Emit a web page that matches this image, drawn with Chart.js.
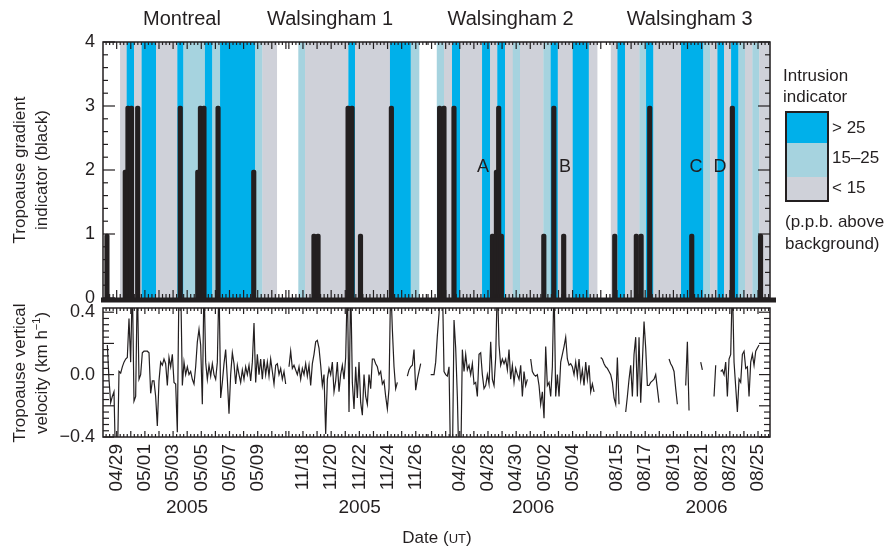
<!DOCTYPE html>
<html>
<head>
<meta charset="utf-8">
<script src="https://cdn.jsdelivr.net/npm/chart.js@4.4.1/dist/chart.umd.min.js"></script>
<style>
body { margin: 0; background: #fff; }
#wrap { position: relative; width: 893px; height: 548px; overflow: hidden; font-family: "Liberation Sans", Arial, sans-serif; color: #231f20; }
canvas { position: absolute; left: 0; }
.txt { position: absolute; white-space: nowrap; font-size: 17px; line-height: 17px; }
.rot { position: absolute; white-space: nowrap; font-size: 17px; line-height: 22px; text-align: center; transform: translate(-50%, -50%) rotate(-90deg); }
.box { position: absolute; left: 785px; top: 111px; width: 44px; height: 91px; box-sizing: border-box; border: 2px solid #231f20; }
.box div { width: 100%; }
</style>
</head>
<body>
<div id="wrap">
  <canvas id="topChart" width="893" height="310" style="top:0"></canvas>
  <canvas id="bottomChart" width="893" height="248" style="top:300px"></canvas>

  <div class="rot" style="left:31px;top:170px">Tropoause gradient<br>indicator (black)</div>
  <div class="rot" style="left:31px;top:373px">Tropoause vertical<br>velocity (km h<sup style="font-size:11px;line-height:0">−1</sup>)</div>

  <div class="txt" style="left:783px;top:67px">Intrusion</div>
  <div class="txt" style="left:783px;top:88px">indicator</div>
  <div class="box">
    <div style="height:30px;background:#00b0ea"></div>
    <div style="height:34px;background:#a6d3df"></div>
    <div style="height:23px;background:#cfd1d9"></div>
  </div>
  <div class="txt" style="left:832px;top:119px">&gt; 25</div>
  <div class="txt" style="left:832px;top:149px">15–25</div>
  <div class="txt" style="left:832px;top:179px">&lt; 15</div>
  <div class="txt" style="left:785px;top:213px">(p.p.b. above</div>
  <div class="txt" style="left:785px;top:235px">background)</div>

  <div class="txt" style="left:437px;top:529px;transform:translateX(-50%)">Date (<span style="font-size:13px">UT</span>)</div>
</div>

<script>
const FONT = '"Liberation Sans", Arial, sans-serif';
const INK = '#231f20';
const LEVEL_COLOURS = ['#ffffff', '#cfd1d9', '#a6d3df', '#00b0ea'];

// x axis is in "plot days" across the four campaigns laid end to end
const X_MAX = 47.3;

const campaignNames = ['Montreal', 'Walsingham 1', 'Walsingham 2', 'Walsingham 3'];
const campaignTitlePos = [5.6, 16.1, 28.9, 41.6];
const campaignYears = ['2005', '2005', '2006', '2006'];
const campaignYearPos = [5.96, 18.2, 30.5, 42.8];
const campaignBounds = [0, 13.09, 23.04, 35.52, X_MAX];
const campaignFirstTick = [0.97, 14.18, 25.3, 36.45];

const tickText = ['04/29', '05/01', '05/03', '05/05', '05/07', '05/09',
  '11/18', '11/20', '11/22', '11/24', '11/26',
  '04/26', '04/28', '04/30', '05/02', '05/04',
  '08/15', '08/17', '08/19', '08/21', '08/23', '08/25'];
const tickValues = [0.97, 2.97, 4.97, 6.97, 8.97, 10.97,
  14.18, 16.18, 18.18, 20.18, 22.18,
  25.3, 27.3, 29.3, 31.3, 33.3,
  36.45, 38.45, 40.45, 42.45, 44.45, 46.45];

// intrusion indicator bands: 1 = < 15, 2 = 15-25, 3 = > 25 p.p.b.
const bandFrom = [1.21, 1.68, 2.2, 2.74, 3.76, 5.27, 5.7, 7.23, 7.75, 8.3, 10.78, 11.3,
  13.85, 14.33, 17.4, 17.87, 20.35, 21.82,
  23.67, 24.18, 24.75, 25.32, 26.88, 27.45, 27.96, 28.51, 29.06, 29.57, 31.23, 31.75, 32.25, 33.31, 34.45,
  36.01, 36.48, 37.02, 38.04, 38.51, 39.03, 40.99, 42.57, 43.05, 43.57, 44.04, 44.54, 45.06, 45.53, 46.05, 46.54];
const bandTo = [1.68, 2.2, 2.74, 3.76, 5.27, 5.7, 7.23, 7.75, 8.3, 10.78, 11.3, 12.32,
  14.33, 17.4, 17.87, 20.35, 21.82, 22.41,
  24.18, 24.75, 25.32, 26.88, 27.45, 27.96, 28.51, 29.06, 29.57, 31.23, 31.75, 32.25, 33.31, 34.45, 35.04,
  36.48, 37.02, 38.04, 38.51, 39.03, 40.99, 42.57, 43.05, 43.57, 44.04, 44.54, 45.06, 45.53, 46.05, 46.54, 47.3];
const bandLevel = [1, 3, 1, 3, 1, 3, 2, 3, 2, 3, 2, 1,
  2, 1, 3, 1, 3, 2,
  2, 1, 3, 1, 3, 1, 3, 1, 2, 1, 2, 3, 1, 3, 1,
  1, 3, 1, 2, 3, 1, 3, 2, 1, 3, 1, 3, 2, 1, 2, 1];

// tropopause gradient indicator (black bars)
const gradTimes = [0.28, 1.58, 1.77, 2.02, 2.46, 5.48, 6.72, 6.91, 7.16, 8.16,
  10.69, 14.96, 15.25, 17.38, 17.66, 18.26, 20.45, 23.87, 24.18, 24.89,
  27.62, 27.9, 28.06, 28.25, 31.26, 31.97, 32.67, 36.29, 37.82, 38.16,
  38.77, 41.75, 44.63, 46.63];
const gradValues = [1, 2, 3, 3, 3, 3, 2, 3, 3, 3,
  2, 1, 1, 3, 3, 1, 3, 3, 3, 3,
  1, 2, 3, 1, 1, 3, 1, 1, 1, 1,
  3, 1, 3, 1];

const annLabels = ['A', 'B', 'C', 'D'];
const annX = [26.95, 32.77, 42.06, 43.76];
const annY = [2.05, 2.05, 2.05, 2.05];

// tropopause vertical velocity (km/h), regular samples, null = no data
const VEL_T0 = 0.307;
const VEL_DT = 0.1182;
const VEL_MIN = -0.4;
const VEL_MAX = 0.427;
const velocity = [
  0.19, -0.03, -0.18, -0.14, -0.11, -0.6, -0.6, 0.02, 0.01, 0.05,
  0.08, 0.1, 0.11, 0.36, 0.08, 0.6, -0.17, -0.14, 0.6, -0.03,
  0.0, 0.14, 0.15, 0.15, 0.15, 0.14, -0.12, -0.04, -0.04, -0.14,
  -0.33, -0.04, 0.08, 0.06, 0.1, 0.07, -0.07, 0.11, 0.05, 0.13,
  -0.05, -0.06, -0.37, 0.6, 0.6, -0.07, 0.08, 0.0, 0.05, 0.0,
  0.02, -0.03, -0.06, 0.05, 0.21, 0.29, 0.19, -0.19, 0.6, 0.08,
  -0.03, 0.06, -0.01, 0.07, 0.0, -0.03, 0.08, 0.6, -0.15, -0.05,
  0.07, 0.16, -0.03, -0.25, 0.0, 0.14, 0.07, -0.06, 0.06, 0.0,
  -0.05, 0.03, -0.03, 0.05, 0.0, 0.06, -0.04, 0.08, 0.33, -0.05,
  0.13, 0.0, 0.1, -0.03, 0.1, 0.0, 0.08, -0.01, 0.1, 0.02,
  -0.06, 0.06, 0.07, 0.0, 0.04, -0.03, 0.02, -0.06, null, 0.05,
  0.15, 0.04, 0.06, 0.03, 0.0, 0.05, -0.03, 0.04, 0.0, 0.07,
  -0.01, 0.06, -0.07, 0.07, 0.13, 0.21, 0.22, 0.17, 0.06, -0.07,
  0.0, -0.38, -0.03, 0.04, 0.0, 0.08, -0.11, -0.04, 0.08, -0.11,
  0.0, 0.06, -0.03, 0.11, 0.6, -0.24, 0.6, -0.05, -0.22, 0.05,
  -0.15, 0.08, -0.18, -0.26, 0.0, -0.14, -0.19, 0.0, -0.09, 0.1,
  0.1, 0.07, 0.05, 0.0, 0.02, -0.06, -0.04, -0.14, -0.22, -0.09,
  0.6, 0.29, 0.05, -0.09, -0.05, null, null, null, null, null,
  -0.01, 0.03, 0.05, 0.06, 0.16, -0.1, -0.03, 0.02, 0.07, null,
  null, null, null, null, 0.0, 0.0, 0.0, 0.08, 0.25, 0.39,
  0.6, 0.6, 0.02, 0.0, -0.01, 0.05, -0.6, -0.6, 0.35, 0.17,
  -0.14, -0.6, -0.6, 0.16, 0.02, 0.13, 0.03, 0.06, 0.0, 0.07,
  -0.06, -0.05, -0.14, 0.13, 0.14, 0.0, -0.09, -0.07, 0.0, -0.06,
  0.21, -0.03, -0.07, 0.11, 0.6, 0.19, 0.06, 0.1, 0.07, 0.1,
  0.03, 0.16, -0.03, 0.06, -0.05, 0.04, 0.0, -0.03, 0.06, -0.14,
  0.02, -0.07, -0.03, null, 0.1, 0.02, 0.0, -0.01, 0.0, -0.07,
  -0.19, -0.11, -0.28, 0.18, -0.07, -0.05, -0.14, 0.05, 0.6, -0.14,
  0.0, -0.14, 0.08, 0.13, 0.18, 0.24, 0.1, 0.06, 0.07, 0.05,
  0.0, 0.08, -0.01, 0.1, -0.04, 0.03, -0.07, 0.08, -0.03, 0.06,
  -0.11, -0.06, -0.11, null, null, null, 0.11, 0.1, 0.07, 0.05,
  0.04, 0.02, 0.0, -0.05, -0.15, -0.19, 0.11, -0.19, null, null,
  null, -0.24, -0.14, -0.03, 0.06, -0.14, 0.13, 0.24, -0.14, 0.24,
  -0.18, 0.08, 0.34, 0.17, -0.07, -0.07, -0.05, -0.04, -0.03, 0.0,
  -0.09, -0.18, null, null, null, null, null, 0.1, 0.07, 0.05,
  0.02, -0.09, -0.19, null, null, null, null, -0.07, 0.21, -0.23,
  null, null, null, null, null, null, 0.08, 0.03, null, null,
  null, null, null, null, -0.14, 0.06, null, null, 0.02, 0.03,
  0.0, 0.08, -0.14, 0.1, 0.13, 0.6, 0.08, -0.08, -0.24, -0.03,
  -0.05, 0.13, 0.15, 0.04, 0.05, -0.14, 0.08, 0.13, 0.06, 0.15,
  0.17, 0.19
];

Chart.defaults.font.family = FONT;
Chart.defaults.color = INK;

const line = (ctx, x1, y1, x2, y2) => {
  ctx.beginPath();
  ctx.moveTo(x1, y1);
  ctx.lineTo(x2, y2);
  ctx.stroke();
};

// date tick marks along a horizontal edge, pointing into the panel
const drawEdgeTicks = (ctx, x, yEdge, dir, minor, major) => {
  for (let c = 0; c < campaignFirstTick.length; c++) {
    const lo = campaignBounds[c], hi = campaignBounds[c + 1];
    const n0 = Math.ceil((lo - campaignFirstTick[c]) / 0.25);
    const n1 = Math.floor((hi - campaignFirstTick[c]) / 0.25);
    for (let n = n0; n <= n1; n++) {
      const px = x.getPixelForValue(campaignFirstTick[c] + n * 0.25);
      const len = (n % 4 === 0) ? major : minor;
      line(ctx, px, yEdge, px, yEdge + dir * len);
    }
  }
};

const fitY = (s) => {
  s.width = 103;
  s.paddingTop = 0;
  s.paddingBottom = 0;
};

const bandsPlugin = {
  id: 'bands',
  beforeDatasetsDraw(chart) {
    const { ctx, chartArea: a, scales: { x } } = chart;
    ctx.save();
    bandFrom.forEach((from, i) => {
      const x1 = x.getPixelForValue(from);
      const x2 = x.getPixelForValue(bandTo[i]);
      ctx.fillStyle = LEVEL_COLOURS[bandLevel[i]];
      ctx.fillRect(x1, a.top, x2 - x1 + 0.3, a.bottom - a.top);
    });
    ctx.restore();
  }
};

const topFramePlugin = {
  id: 'topFrame',
  afterDatasetsDraw(chart) {
    const { ctx, chartArea: a, scales: { x, y } } = chart;
    ctx.save();
    ctx.strokeStyle = INK;
    ctx.lineWidth = 1.5;
    ctx.beginPath();
    ctx.moveTo(a.left, a.bottom);
    ctx.lineTo(a.left, a.top);
    ctx.lineTo(a.right, a.top);
    ctx.lineTo(a.right, a.bottom);
    ctx.stroke();

    ctx.lineWidth = 1.2;
    for (let k = 0; k <= 20; k++) {
      const py = y.getPixelForValue(k * 0.2);
      const len = (k % 5 === 0) ? 12 : 5;
      line(ctx, a.left, py, a.left + len, py);
      line(ctx, a.right, py, a.right - len, py);
    }
    drawEdgeTicks(ctx, x, a.top, 1, 3, 7);
    drawEdgeTicks(ctx, x, a.bottom, -1, 4, 8);

    ctx.lineWidth = 5;
    line(ctx, a.left - 2, a.bottom + 2, a.right + 6, a.bottom + 2);

    ctx.fillStyle = INK;
    ctx.textAlign = 'center';
    ctx.textBaseline = 'middle';
    ctx.font = '18px ' + FONT;
    annLabels.forEach((t, i) => ctx.fillText(t, x.getPixelForValue(annX[i]), y.getPixelForValue(annY[i])));

    ctx.font = '20px ' + FONT;
    campaignNames.forEach((t, i) => ctx.fillText(t, x.getPixelForValue(campaignTitlePos[i]), 19));
    ctx.restore();
  }
};

const bottomFramePlugin = {
  id: 'bottomFrame',
  afterDatasetsDraw(chart) {
    const { ctx, chartArea: a, scales: { x, y } } = chart;
    ctx.save();
    ctx.strokeStyle = INK;
    ctx.lineWidth = 1.5;
    ctx.strokeRect(a.left, a.top, a.right - a.left, a.bottom - a.top);

    ctx.lineWidth = 1.2;
    for (let k = -10; k <= 10; k++) {
      const py = y.getPixelForValue(k * 0.04);
      const len = (k % 5 === 0) ? 11 : 6;
      line(ctx, a.left, py, a.left + len, py);
      line(ctx, a.right, py, a.right - len, py);
    }
    drawEdgeTicks(ctx, x, a.top, 1, 3, 6);
    drawEdgeTicks(ctx, x, a.bottom, -1, 3, 6);

    ctx.fillStyle = INK;
    ctx.font = '19px ' + FONT;
    ctx.textAlign = 'center';
    ctx.textBaseline = 'middle';
    campaignYears.forEach((t, i) => ctx.fillText(t, x.getPixelForValue(campaignYearPos[i]), 208));
    ctx.restore();
  }
};

new Chart(document.getElementById('topChart'), {
  type: 'bar',
  data: {
    datasets: [{
      data: gradTimes.map((t, i) => ({ x: t, y: gradValues[i] })),
      backgroundColor: INK,
      borderWidth: 0,
      barThickness: 4.5,
      borderRadius: { topLeft: 2, topRight: 2, bottomLeft: 0, bottomRight: 0 },
      borderSkipped: 'bottom'
    }]
  },
  options: {
    responsive: false,
    animation: false,
    layout: { padding: { left: 0, right: 123, top: 42, bottom: 12 } },
    plugins: { legend: { display: false }, tooltip: { enabled: false } },
    scales: {
      x: { type: 'linear', min: 0, max: X_MAX, offset: false, display: false },
      y: {
        min: 0, max: 4,
        afterFit: fitY,
        grid: { display: false, drawTicks: false },
        border: { display: false },
        ticks: { stepSize: 1, padding: 8, font: { size: 18 } }
      }
    }
  },
  plugins: [bandsPlugin, topFramePlugin]
});

new Chart(document.getElementById('bottomChart'), {
  type: 'line',
  data: {
    datasets: [{
      data: velocity.map((v, i) => ({ x: VEL_T0 + i * VEL_DT, y: v })),
      borderColor: INK,
      borderWidth: 1.2,
      pointRadius: 0,
      spanGaps: false,
      tension: 0
    }]
  },
  options: {
    responsive: false,
    animation: false,
    layout: { padding: { left: 0, right: 123, top: 8, bottom: 0 } },
    plugins: { legend: { display: false }, tooltip: { enabled: false } },
    scales: {
      x: {
        type: 'linear', min: 0, max: X_MAX, offset: false,
        afterFit: (s) => { s.height = 111; },
        afterBuildTicks: (s) => { s.ticks = tickValues.map(v => ({ value: v })); },
        grid: { display: false, drawTicks: false },
        border: { display: false },
        ticks: {
          autoSkip: false, minRotation: 90, maxRotation: 90, padding: 7,
          font: { size: 19 },
          callback: (v, i) => tickText[i]
        }
      },
      y: {
        min: VEL_MIN, max: VEL_MAX,
        afterFit: fitY,
        afterBuildTicks: (s) => { s.ticks = [-0.4, 0, 0.4].map(v => ({ value: v })); },
        grid: { display: false, drawTicks: false },
        border: { display: false },
        ticks: {
          padding: 8,
          font: { size: 18 },
          callback: (v) => (v < 0 ? '−' : '') + Math.abs(v).toFixed(1)
        }
      }
    }
  },
  plugins: [bottomFramePlugin]
});
</script>
</body>
</html>
